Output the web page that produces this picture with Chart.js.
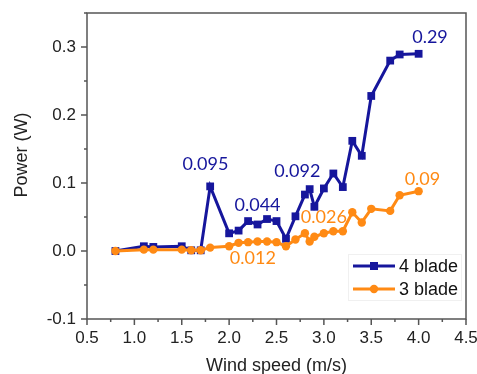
<!DOCTYPE html>
<html lang="en">
<head>
    <meta charset="UTF-8">
    <title>Power vs wind speed</title>
    <script src="https://cdn.jsdelivr.net/npm/chart.js"></script>
    <style>
        html, body { margin: 0; padding: 0; background: #fff; }
        #wrap { width: 477px; height: 374px; }
    </style>
</head>
<body>
    <div id="wrap"><canvas id="powerChart" width="477" height="374"></canvas></div>

    <script>
        // wind speed (m/s), shared by both series
        const windSpeed = [0.8, 1.1, 1.2, 1.5, 1.6, 1.7, 1.8, 2.0, 2.1, 2.2, 2.3, 2.4, 2.5, 2.6,
                           2.7, 2.8, 2.85, 2.9, 3.0, 3.1, 3.2, 3.3, 3.4, 3.5, 3.7, 3.8, 4.0];
        // power (W)
        const power4Blade = [0.000, 0.007, 0.006, 0.007, 0.001, 0.001, 0.095, 0.026, 0.030, 0.044, 0.039,
                             0.047, 0.044, 0.018, 0.051, 0.083, 0.091, 0.065, 0.092, 0.114, 0.094,
                             0.162, 0.140, 0.228, 0.280, 0.289, 0.290];
        const power3Blade = [0.000, 0.002, 0.002, 0.002, 0.001, 0.001, 0.005, 0.007, 0.012, 0.013, 0.014,
                             0.014, 0.013, 0.007, 0.017, 0.026, 0.014, 0.021, 0.026, 0.029, 0.029,
                             0.057, 0.042, 0.062, 0.059, 0.082, 0.088];
        const seriesNames = ['4 blade', '3 blade'];
        const xTicks = [0.5, 1.0, 1.5, 2.0, 2.5, 3.0, 3.5, 4.0, 4.5];
        const yTicks = [-0.1, 0.0, 0.1, 0.2, 0.3];
        // value labels: text, anchor in data units, series index
        const labelText = ['0.095', '0.044', '0.092', '0.29', '0.012', '0.026', '0.09'];
        const labelX = [1.75, 2.30, 2.72, 4.12, 2.25, 3.00, 4.04];
        const labelY = [0.128, 0.067, 0.117, 0.314, -0.011, 0.049, 0.106];
        const labelSeries = [0, 0, 0, 0, 1, 1, 1];

        const BLUE = '#16169c';
        const ORANGE = '#ff8a14';
        const colors = [BLUE, ORANGE];
        const AXIS = '#555555';
        const TXT = '#222222';

        const toPoints = ys => windSpeed.map((x, i) => ({x: x, y: ys[i]}));

        const decor = {
            id: 'decor',
            beforeDatasetsDraw(chart) {
                const {ctx, chartArea: a, scales} = chart;
                ctx.save();
                ctx.strokeStyle = AXIS;
                ctx.lineWidth = 1.5;
                ctx.strokeRect(a.left, a.top, a.right - a.left, a.bottom - a.top);
                // ticks, outward, major + minor
                ctx.beginPath();
                for (let v = 0.5; v <= 4.5001; v += 0.25) {
                    const px = scales.x.getPixelForValue(v);
                    const major = Math.abs(v * 2 - Math.round(v * 2)) < 1e-6;
                    ctx.moveTo(px, a.bottom);
                    ctx.lineTo(px, a.bottom + (major ? 6 : 3));
                }
                for (let v = -0.1; v <= 0.3501; v += 0.05) {
                    const py = scales.y.getPixelForValue(v);
                    const major = Math.abs(v * 10 - Math.round(v * 10)) < 1e-6;
                    ctx.moveTo(a.left, py);
                    ctx.lineTo(a.left - (major ? 6 : 3), py);
                }
                ctx.stroke();
                ctx.restore();
            },
            afterDatasetsDraw(chart) {
                const {ctx, chartArea: a, scales} = chart;
                ctx.save();
                // value labels
                ctx.font = '18px Lato';
                ctx.textAlign = 'center';
                ctx.textBaseline = 'middle';
                labelText.forEach((t, i) => {
                    ctx.fillStyle = colors[labelSeries[i]];
                    ctx.fillText(t, scales.x.getPixelForValue(labelX[i]), scales.y.getPixelForValue(labelY[i]));
                });

                // legend
                const lx = 353, ly = [266, 289];
                ctx.strokeStyle = '#f0f0f0';
                ctx.lineWidth = 1;
                ctx.strokeRect(348.5, 254.5, 113, 46);
                seriesNames.forEach((name, i) => {
                    ctx.strokeStyle = colors[i];
                    ctx.fillStyle = colors[i];
                    ctx.lineWidth = 3;
                    ctx.beginPath();
                    ctx.moveTo(lx, ly[i]);
                    ctx.lineTo(lx + 42, ly[i]);
                    ctx.stroke();
                    ctx.beginPath();
                    if (i === 0) ctx.rect(lx + 21 - 4, ly[i] - 4, 8, 8);
                    else ctx.arc(lx + 21, ly[i], 4.2, 0, Math.PI * 2);
                    ctx.fill();
                    ctx.fillStyle = '#111';
                    ctx.font = '18px "Liberation Sans", Arial';
                    ctx.textAlign = 'left';
                    ctx.textBaseline = 'middle';
                    ctx.fillText(name, lx + 46, ly[i] + 1);
                });

                // axis titles
                ctx.fillStyle = TXT;
                ctx.font = '18px "Liberation Sans", Arial';
                ctx.textAlign = 'center';
                ctx.textBaseline = 'middle';
                ctx.fillText('Wind speed (m/s)', (a.left + a.right) / 2, 366);
                ctx.translate(22, 155);
                ctx.rotate(-Math.PI / 2);
                ctx.fillText('Power (W)', 0, 0);
                ctx.restore();
            }
        };

        const ctx = document.getElementById('powerChart').getContext('2d');
        const chart = new Chart(ctx, {
            type: 'line',
            data: {
                datasets: [{
                    label: seriesNames[0],
                    data: toPoints(power4Blade),
                    borderColor: BLUE,
                    backgroundColor: BLUE,
                    borderWidth: 3,
                    pointStyle: 'rect',
                    pointRadius: 5.5,
                    pointBorderWidth: 0,
                    tension: 0
                }, {
                    label: seriesNames[1],
                    data: toPoints(power3Blade),
                    borderColor: ORANGE,
                    backgroundColor: ORANGE,
                    borderWidth: 3,
                    pointStyle: 'circle',
                    pointRadius: 4.2,
                    pointBorderWidth: 0,
                    tension: 0
                }].reverse()
            },
            options: {
                responsive: false,
                animation: false,
                events: [],
                layout: { padding: { top: 13, right: 11, left: 0, bottom: 0 } },
                plugins: { legend: { display: false }, tooltip: { enabled: false } },
                scales: {
                    x: {
                        type: 'linear',
                        min: 0.5, max: 4.5,
                        afterFit: s => { s.height = 55; s.paddingLeft = 0; s.paddingRight = 0; },
                        afterBuildTicks: s => { s.ticks = xTicks.map(v => ({value: v})); },
                        grid: { display: false, drawTicks: false },
                        border: { display: false },
                        ticks: {
                            padding: 9,
                            color: TXT,
                            font: { family: '"Liberation Sans", Arial', size: 17 },
                            callback: v => v.toFixed(1)
                        }
                    },
                    y: {
                        min: -0.1, max: 0.35,
                        afterFit: s => { s.width = 87; s.paddingTop = 0; s.paddingBottom = 0; },
                        afterBuildTicks: s => { s.ticks = yTicks.map(v => ({value: v})); },
                        grid: { display: false, drawTicks: false },
                        border: { display: false },
                        ticks: {
                            padding: 11,
                            color: TXT,
                            font: { family: '"Liberation Sans", Arial', size: 17 },
                            callback: v => v.toFixed(1)
                        }
                    }
                }
            },
            plugins: [decor]
        });
    </script>
</body>
</html>
